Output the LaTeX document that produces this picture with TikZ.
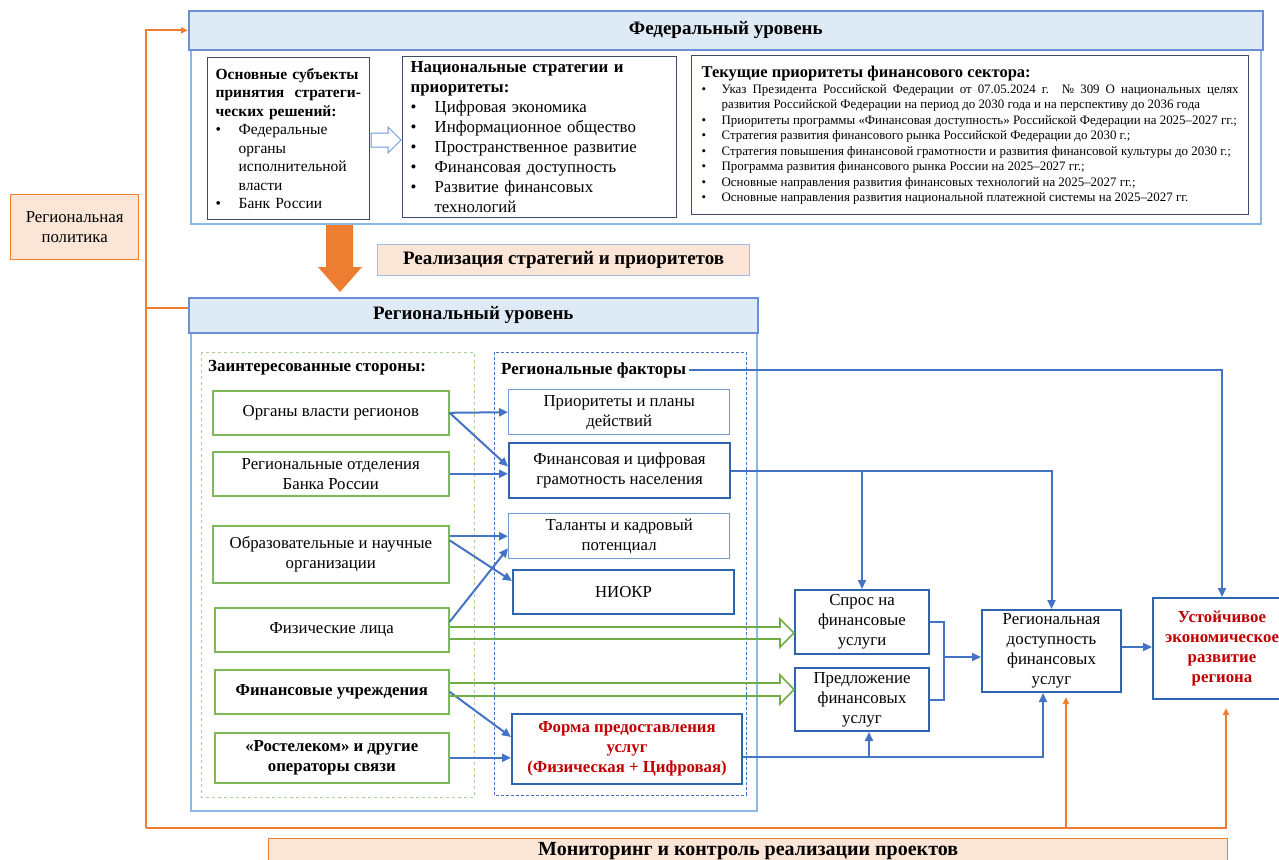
\documentclass[tikz,border=0pt]{standalone}
\usepackage{fontspec}
\setmainfont{Liberation Serif}
\usetikzlibrary{arrows.meta,calc}
\definecolor{hdrfill}{HTML}{DEEBF7}
\definecolor{hdrline}{HTML}{6A8FD6}
\definecolor{bodyline}{HTML}{8DB7E6}
\definecolor{navy}{HTML}{3E4A66}
\definecolor{lblue}{HTML}{4472C4}
\definecolor{dblue}{HTML}{2E65B0}
\definecolor{pblue}{HTML}{7097D8}
\definecolor{gbord}{HTML}{7DB956}
\definecolor{grn}{HTML}{70AD47}
\definecolor{lgrn}{HTML}{A9D18E}
\definecolor{orng}{HTML}{ED7D31}
\definecolor{peach}{HTML}{FBE5D6}
\definecolor{realline}{HTML}{A8BAE0}
\definecolor{dred}{HTML}{C00000}
\newcommand{\bitem}[2][23pt]{\par\hangindent=#1\hangafter=1\noindent\makebox[#1][l]{\textbullet}#2\par}
\newcommand{\txt}{\fontsize{16.8}{20}\selectfont}
\tikzset{
  cell/.style={draw, align=center, anchor=north west, inner sep=2pt, font=\txt},
  gbox/.style={cell, draw=gbord, line width=1.6pt},
  fbox/.style={cell, draw=pblue, line width=1.4pt},
  bbox/.style={cell, draw=dblue, line width=2pt},
  fedbox/.style={cell, draw=navy, line width=1.3pt, align=left, inner xsep=8pt, inner ysep=1pt},
  hdr/.style={cell, fill=hdrfill, draw=hdrline, line width=1.6pt, font=\fontsize{19}{22}\selectfont\bfseries},
  peachbox/.style={cell, fill=peach, draw=orng, line width=1.4pt},
  barrow/.style={draw=lblue, line width=2pt, -{Triangle[length=9pt,width=8pt]}},
  bline/.style={draw=lblue, line width=2pt},
  oline/.style={draw=orng, line width=2pt},
  oarrow/.style={oline, -{Triangle[length=7pt,width=6pt]}},
  garrow/.style={draw=grn, line width=1.6pt}
}
\begin{document}
\begin{tikzpicture}[x=1pt,y=-1pt]
\useasboundingbox (0,0) rectangle (1279,859);

% containers
\draw[bodyline, line width=1.4pt] (191,49) rectangle (1261,224);
\draw[bodyline, line width=1.4pt] (191,332) rectangle (757,811);
\draw[lgrn, line width=0.9pt, dashed] (201,352) rectangle (474,797);
\draw[lblue, line width=0.9pt, dash pattern=on 3pt off 2pt] (494,352) rectangle (746,795);

% federal level
\node[hdr, minimum width=1074pt, minimum height=39pt] (fedhdr) at (188,10) {Федеральный уровень};
\node[fedbox, text width=146pt, minimum height=162pt, font=\fontsize{15.5}{18.5}\selectfont] (subj) at (207,57)
  {{\bfseries Основные субъекты\\ принятия \ стратеги-\\ческих решений:}
   \bitem{Федеральные\newline органы\newline исполнительной\newline власти}
   \bitem{Банк России}};
\node[fedbox, text width=258pt, minimum height=161pt, font=\fontsize{16.8}{20}\selectfont] (nat) at (402,56)
  {{\bfseries Национальные стратегии и\\ приоритеты:}
   \bitem[24pt]{Цифровая экономика}
   \bitem[24pt]{Информационное общество}
   \bitem[24pt]{Пространственное развитие}
   \bitem[24pt]{Финансовая доступность}
   \bitem[24pt]{Развитие финансовых\newline технологий}};
\node[fedbox, text width=537pt, minimum height=159pt, align=justify, inner xsep=10pt, font=\fontsize{12.9}{15.5}\selectfont] (cur) at (691,55)
  {{\fontsize{16.5}{20}\selectfont\bfseries Текущие приоритеты финансового сектора:}
   \bitem[20pt]{Указ Президента Российской Федерации от 07.05.2024 г. №~309 О национальных целях\linebreak развития Российской Федерации на период до 2030 года и на перспективу до 2036 года}
   \bitem[20pt]{Приоритеты программы «Финансовая доступность» Российской Федерации на 2025–2027 гг.;}
   \bitem[20pt]{Стратегия развития финансового рынка Российской Федерации до 2030 г.;}
   \bitem[20pt]{Стратегия повышения финансовой грамотности и развития финансовой культуры до 2030 г.;}
   \bitem[20pt]{Программа развития финансового рынка России на 2025–2027 гг.;}
   \bitem[20pt]{Основные направления развития финансовых технологий на 2025–2027 гг.;}
   \bitem[20pt]{Основные направления развития национальной платежной системы на 2025–2027 гг.}};
\draw[pblue, line width=1pt, fill=white] (371,133) -- (388,133) -- (388,127) -- (401,140) -- (388,153) -- (388,147) -- (371,147) -- cycle;

% transition
\fill[orng] (326,225) -- (353,225) -- (353,267) -- (362,267) -- (340,292) -- (318,267) -- (326,267) -- cycle;
\node[cell, fill=peach, draw=realline, line width=1.2pt, minimum width=372pt, minimum height=31pt, font=\fontsize{19}{22}\selectfont\bfseries] (real) at (377,244) {Реализация стратегий и приоритетов};
\node[peachbox, minimum width=128pt, minimum height=65pt] (rpol) at (10,194) {Региональная\\ политика};

% regional level
\node[hdr, minimum width=569pt, minimum height=35pt] (reghdr) at (188,297) {Региональный уровень};
\node[anchor=west, inner sep=2pt, font=\fontsize{16.9}{20}\selectfont\bfseries] (zas) at (206,368) {Заинтересованные стороны:};
\node[anchor=west, inner sep=3pt, font=\fontsize{17}{20}\selectfont\bfseries] (regfak) at (498,370) {Региональные факторы};

\node[gbox, minimum width=236pt, minimum height=44pt] (organy) at (212,390) {Органы власти регионов};
\node[gbox, minimum width=236pt, minimum height=44pt] (regotd) at (212,451) {Региональные отделения\\ Банка России};
\node[gbox, minimum width=236pt, minimum height=57pt] (obraz) at (212,525) {Образовательные и научные\\ организации};
\node[gbox, minimum width=234pt, minimum height=44pt] (fiz) at (214,607) {Физические лица};
\node[gbox, minimum width=234pt, minimum height=44pt, font=\txt\bfseries] (finu) at (214,669) {Финансовые учреждения};
\node[gbox, minimum width=234pt, minimum height=50pt, font=\txt\bfseries] (rost) at (214,732) {«Ростелеком» и другие\\ операторы связи};

\node[fbox, minimum width=221pt, minimum height=45pt] (prior) at (508,389) {Приоритеты и планы\\ действий};
\node[bbox, minimum width=221pt, minimum height=55pt] (fin) at (508,442) {Финансовая и цифровая\\ грамотность населения};
\node[fbox, minimum width=221pt, minimum height=45pt] (talant) at (508,513) {Таланты и кадровый\\ потенциал};
\node[bbox, minimum width=221pt, minimum height=44pt] (niokr) at (512,569) {НИОКР};
\node[bbox, minimum width=230pt, minimum height=70pt, text=dred, font=\txt\bfseries] (forma) at (511,713) {Форма предоставления\\ услуг\\ (Физическая + Цифровая)};

\node[bbox, minimum width=134pt, minimum height=64pt] (spros) at (794,589) {Спрос на\\ финансовые\\ услуги};
\node[bbox, minimum width=134pt, minimum height=63pt] (predl) at (794,667) {Предложение\\ финансовых\\ услуг};
\node[bbox, minimum width=139pt, minimum height=82pt] (dostup) at (981,609) {Региональная\\ доступность\\ финансовых\\ услуг};
\node[bbox, minimum width=138pt, minimum height=101pt, text=dred, font=\txt\bfseries] (ustoi) at (1152,597) {Устойчивое\\ экономическое\\ развитие\\ региона};

\node[peachbox, minimum width=959pt, minimum height=24pt, font=\fontsize{20}{22}\selectfont\bfseries] (monit) at (268,838) {Мониторинг и контроль реализации проектов};

% stakeholders -> factors
\draw[barrow] (organy.east) -- (prior.west);
\draw[barrow] (organy.east) -- ([yshift=4pt]fin.west);
\draw[barrow] (regotd.east) -- (regotd.east -| fin.west);
\draw[barrow] (obraz.east |- talant.west) -- (talant.west);
\draw[barrow] ([yshift=14pt]obraz.east) -- ([yshift=11pt]niokr.west);
\draw[barrow] ([yshift=8pt]fiz.east) -- ([yshift=-12pt]talant.west);
\draw[barrow] (finu.east) -- ([yshift=12pt]forma.west);
\draw[barrow] (rost.east) -- (rost.east -| forma.west);

% double arrows to demand and supply
\draw[garrow] (fiz.east |- 0,627) -- (780,627) -- (780,619) -- (spros.west |- 0,633) -- (780,647) -- (780,639) -- (fiz.east |- 0,639);
\draw[garrow] (finu.east |- 0,683) -- (780,683) -- (780,675) -- (predl.west |- 0,689.5) -- (780,704) -- (780,696) -- (finu.east |- 0,696);

% factors -> outcomes
\draw[barrow] (regfak.east) -| (ustoi.north);
\draw[barrow] (fin.east) -| (dostup.north);
\draw[barrow] (spros.north |- fin.east) -- (spros.north);
\coordinate (brk) at (944,657);
\draw[bline] (spros.east) -| (brk) |- (predl.east);
\draw[barrow] (brk) -- (brk -| dostup.west);
\draw[barrow] (dostup.east |- 0,647) -- (ustoi.west |- 0,647);
\coordinate (fout) at (1043,757);
\coordinate (fbr) at (869,757);
\draw[barrow] (forma.east |- fout) -- (fout) -- (fout |- dostup.south);
\draw[barrow] (fbr) -- (fbr |- predl.south);

% monitoring loop
\coordinate (ocorner) at (146,828);
\coordinate (omon) at (1066,828);
\draw[oarrow] (ocorner) |- (fedhdr.west);
\draw[oline] (ocorner |- 0,308) -- (reghdr.west |- 0,308);
\draw[oarrow, shorten >=8pt] (ocorner) -| ([xshift=4pt]ustoi.south);
\draw[oarrow, shorten >=4pt] (omon) -- (omon |- dostup.south);
\end{tikzpicture}
\end{document}
